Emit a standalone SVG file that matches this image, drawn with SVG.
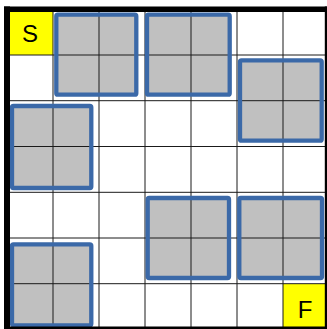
<svg xmlns="http://www.w3.org/2000/svg" width="327" height="329" viewBox="0 0 327 329">
<style>
.cell{fill:#ffff00}
.blk{fill:#c0c0c0}
.bst{fill:none;stroke:#3b69a8;stroke-width:4.3;stroke-linejoin:round}
.g{stroke:#1a1a1a;stroke-width:1}
.b{stroke:#000;fill:none}
.t{font-family:"Liberation Sans",Arial,sans-serif;font-size:24px;fill:#000;text-anchor:middle}
</style>
<rect x="0" y="0" width="327" height="329" fill="#fff"/>
<g id="start"><rect class="cell" x="10" y="12" width="43" height="43"/></g>
<g id="finish"><rect class="cell" x="283" y="284" width="42" height="43"/></g>
<g id="fills">
<rect class="blk" x="56.3" y="14.7" width="80" height="80"/>
<rect class="blk" x="147" y="14.7" width="82.7" height="80"/>
<rect class="blk" x="240" y="60.3" width="81.7" height="80.4"/>
<rect class="blk" x="12" y="106" width="79.3" height="82"/>
<rect class="blk" x="147.7" y="198" width="81.3" height="80"/>
<rect class="blk" x="239.3" y="198" width="82.7" height="80"/>
<rect class="blk" x="12" y="244.3" width="79.3" height="81"/>
</g>
<g id="grid">
<line class="g" x1="53" y1="9" x2="53" y2="329"/>
<line class="g" x1="99" y1="9" x2="99" y2="329"/>
<line class="g" x1="145" y1="9" x2="145" y2="329"/>
<line class="g" x1="191" y1="9" x2="191" y2="329"/>
<line class="g" x1="237" y1="9" x2="237" y2="329"/>
<line class="g" x1="283" y1="9" x2="283" y2="329"/>
<line class="g" x1="7" y1="55" x2="327" y2="55"/>
<line class="g" x1="7" y1="100.7" x2="327" y2="100.7"/>
<line class="g" x1="7" y1="146.5" x2="327" y2="146.5"/>
<line class="g" x1="7" y1="192.3" x2="327" y2="192.3"/>
<line class="g" x1="7" y1="238" x2="327" y2="238"/>
<line class="g" x1="7" y1="283.7" x2="327" y2="283.7"/>
</g>
<g id="block1"><rect class="bst" x="56.3" y="14.7" width="80" height="80" rx="1.5"/></g>
<g id="block2"><rect class="bst" x="147" y="14.7" width="82.7" height="80" rx="1.5"/></g>
<g id="block3"><rect class="bst" x="240" y="60.3" width="81.7" height="80.4" rx="1.5"/></g>
<g id="block4"><rect class="bst" x="12" y="106" width="79.3" height="82" rx="1.5"/></g>
<g id="block5"><rect class="bst" x="147.7" y="198" width="81.3" height="80" rx="1.5"/></g>
<g id="block6"><rect class="bst" x="239.3" y="198" width="82.7" height="80" rx="1.5"/></g>
<g id="block7"><rect class="bst" x="12" y="244.3" width="79.3" height="81" rx="1.5"/></g>
<g id="border">
<line class="b" x1="7" y1="6.5" x2="7" y2="329" stroke-width="6"/>
<line class="b" x1="4" y1="9.3" x2="327" y2="9.3" stroke-width="5.5"/>
<line class="b" x1="326" y1="6.5" x2="326" y2="329" stroke-width="2.4"/>
<line class="b" x1="4" y1="327.8" x2="327" y2="327.8" stroke-width="2.5"/>
</g>
<text class="t" x="30" y="42">S</text>
<text class="t" x="305" y="317.5">F</text>
</svg>
